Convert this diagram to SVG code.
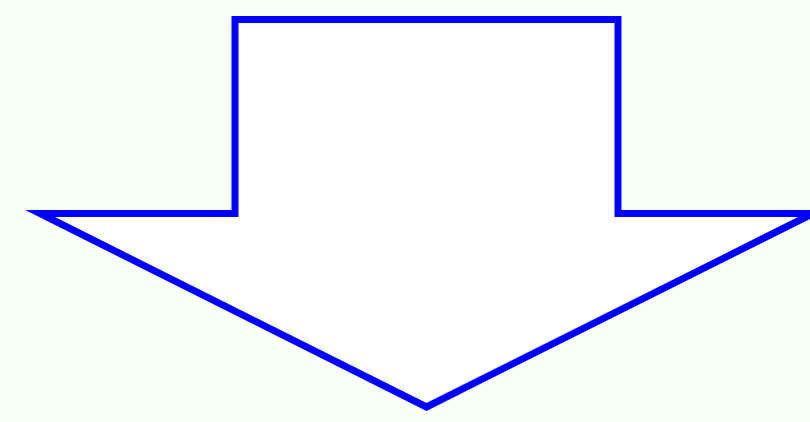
<svg xmlns="http://www.w3.org/2000/svg" width="810" height="422" viewBox="0 0 810 422">
<style>
.arrow{fill:#ffffff;stroke:#0000ff;stroke-width:7;stroke-linejoin:miter;stroke-miterlimit:10}
</style>
<rect width="810" height="422" fill="#f8fff8"/>
<g id="arrow">
<polygon class="arrow" points="235,19.5 618,19.5 618,213.5 813,213.5 426.5,407 40,213.5 235,213.5"/>
</g>
</svg>
